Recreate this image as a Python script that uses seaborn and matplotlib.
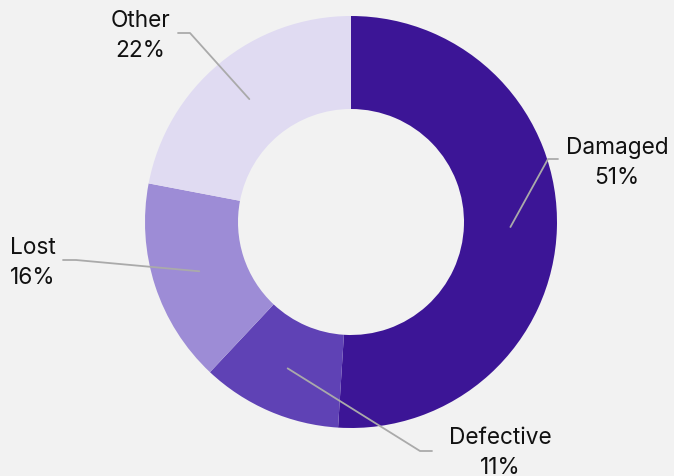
import numpy as np
import matplotlib.pyplot as plt
import seaborn as sns

# Return reasons share
labels = ['Damaged', 'Defective', 'Lost', 'Other']
shares = [51, 11, 16, 22]
colors = ['#3c1596', '#5f42b5', '#9d8cd6', '#e0dbf2']

sns.set_theme(style='white')
plt.rcParams['font.family'] = ['Inter', 'DejaVu Sans']

fig = plt.figure(figsize=(6.74, 4.77), dpi=100)
fig.patch.set_facecolor('#f2f2f2')
ax = fig.add_axes([0, 0, 1, 1])
ax.set_facecolor('#f2f2f2')

cx, cy = 351, 254
r_out, r_in = 206, 113
ax.pie(shares, colors=sns.color_palette(colors), startangle=90, counterclock=False,
       center=(cx, cy), radius=r_out, frame=True,
       wedgeprops=dict(width=r_out - r_in, linewidth=0))
ax.set_xlim(0, 674)
ax.set_ylim(0, 477)
ax.set_aspect('equal')
ax.axis('off')

# label layout: elbow, line end, text position, alignment
layout = {
    'Damaged': ((548, 317), (558, 317), (617, 314), 'center'),
    'Defective': ((420, 25), (432, 25), (500, 24), 'center'),
    'Lost': ((76, 216), (63, 216), (10, 214), 'left'),
    'Other': ((190, 443), (178, 443), (140, 441), 'center'),
}

total = sum(shares)
start = 90
r_mid = (r_out + r_in) / 2
for lab, val in zip(labels, shares):
    ang = start - val / total * 180
    start -= val / total * 360
    ax_x = cx + r_mid * np.cos(np.radians(ang))
    ax_y = cy + r_mid * np.sin(np.radians(ang))
    (ex, ey), (lx, ly), (tx, ty), ha = layout[lab]
    ax.plot([ax_x, ex, lx], [ax_y, ey, ly], color='#aaaaaa', lw=1.3)
    ax.text(tx, ty, f'{lab}\n{val}%', ha=ha, va='center', fontsize=16.3,
            color='#111111', linespacing=1.5, multialignment=ha)

fig.savefig('out.png', dpi=100, facecolor=fig.get_facecolor())
